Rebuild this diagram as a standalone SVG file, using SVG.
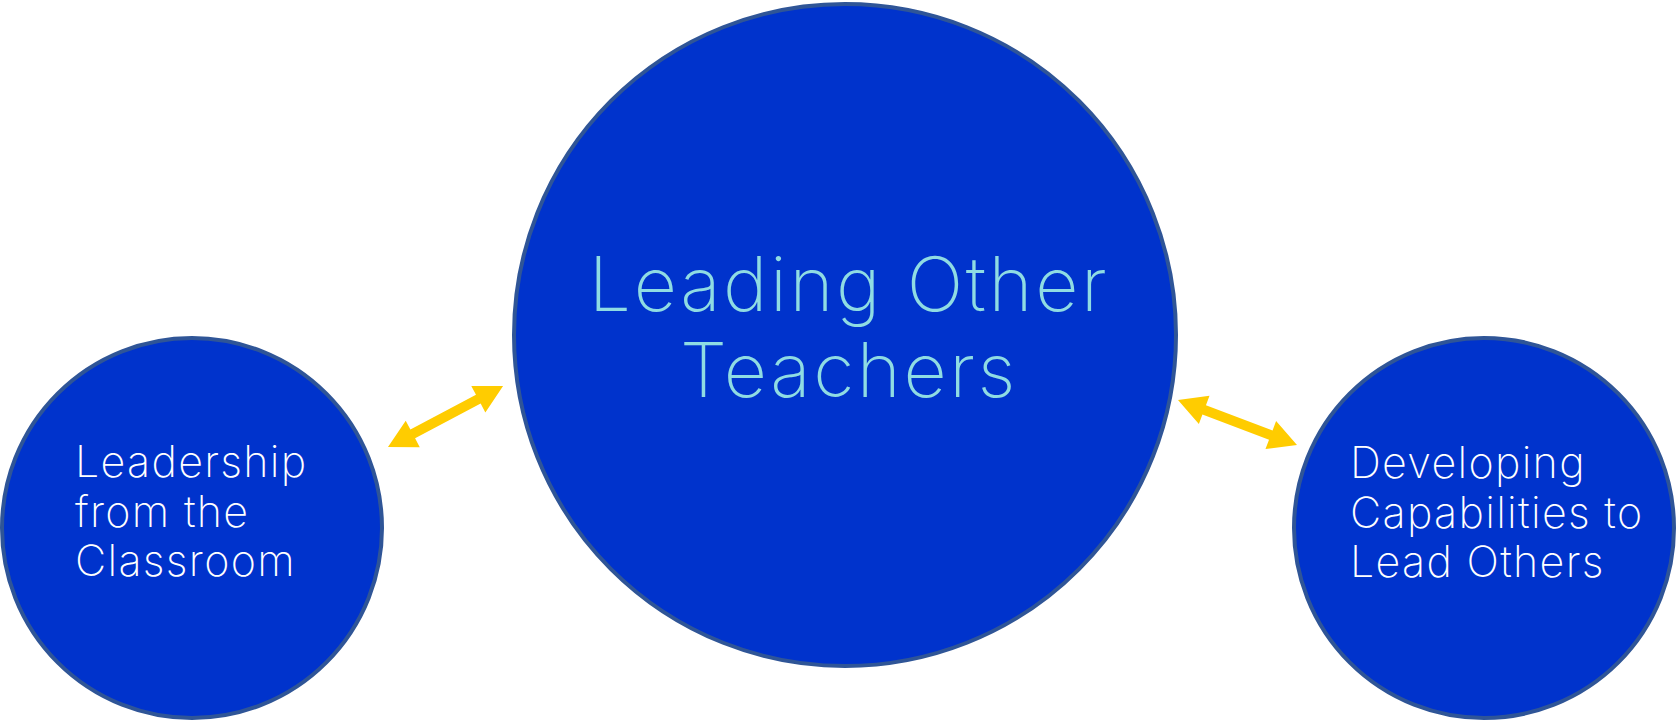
<svg xmlns="http://www.w3.org/2000/svg" width="1676" height="721" viewBox="0 0 1676 721">
  <style>
    .node { fill: #0033CC; stroke: #2F5597; stroke-width: 4; }
    .small { font-family: Inter, "Noto Sans", "Liberation Sans", sans-serif; font-weight: 250; font-size: 43px; letter-spacing: 1.3px; fill: #FFFFFF; }
    .big { font-family: Inter, "Noto Sans", "Liberation Sans", sans-serif; font-weight: 250; font-size: 75px; letter-spacing: 2.6px; fill: #8FDCE3; text-anchor: middle; }
    .arrow { fill: #FFCC00; }
  </style>
  <rect width="1676" height="721" fill="#FFFFFF"/>
  <g id="connectors">
    <g transform="translate(388,447) rotate(-27.9)">
      <polygon class="arrow" points="0,0 28,-15 28,-5 102.2,-5 102.2,-15 130.2,0 102.2,15 102.2,5 28,5 28,15"/>
    </g>
    <g transform="translate(1178,400) rotate(20.7)">
      <polygon class="arrow" points="0,0 28,-15 28,-5 99.2,-5 99.2,-15 127.2,0 99.2,15 99.2,5 28,5 28,15"/>
    </g>
  </g>
  <g id="node-leading-other-teachers">
    <circle class="node" cx="845" cy="335" r="331"/>
    <text class="big" x="849" y="311">Leading Other</text>
    <text class="big" x="849" y="397">Teachers</text>
  </g>
  <g id="node-leadership-from-classroom">
    <circle class="node" cx="192" cy="528" r="190"/>
    <text class="small" x="75" y="477">Leadership</text>
    <text class="small" x="75" y="527">from the</text>
    <text class="small" x="75" y="576">Classroom</text>
  </g>
  <g id="node-developing-capabilities">
    <circle class="node" cx="1484" cy="528" r="190"/>
    <text class="small" x="1350" y="478">Developing</text>
    <text class="small" x="1350" y="528">Capabilities to</text>
    <text class="small" x="1350" y="577">Lead Others</text>
  </g>
</svg>
